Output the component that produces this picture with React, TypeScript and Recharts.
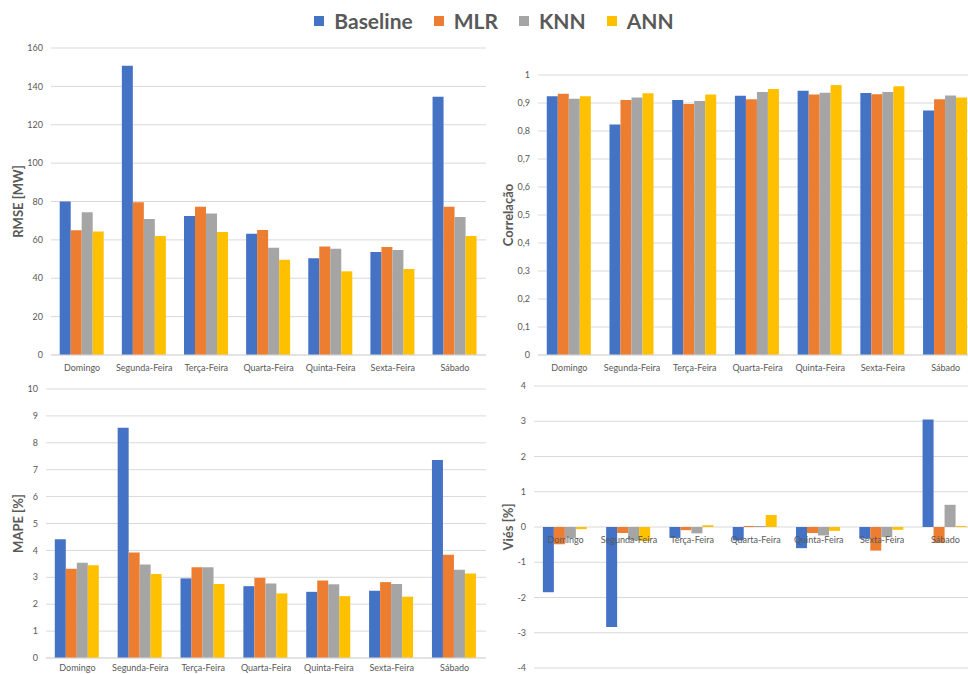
import { BarChart, Bar, XAxis, YAxis, CartesianGrid } from "recharts";

const days = [
  "Domingo",
  "Segunda-Feira",
  "Terça-Feira",
  "Quarta-Feira",
  "Quinta-Feira",
  "Sexta-Feira",
  "Sábado",
];

const models = [
  { key: "baseline", name: "Baseline", color: "#4472C4" },
  { key: "mlr", name: "MLR", color: "#ED7D31" },
  { key: "knn", name: "KNN", color: "#A5A5A5" },
  { key: "ann", name: "ANN", color: "#FFC000" },
];

// RMSE [MW]
const rmseBaseline = [80.0, 150.8, 72.4, 63.2, 50.4, 53.7, 134.6];
const rmseMlr = [65.0, 79.6, 77.3, 65.1, 56.5, 56.3, 77.3];
const rmseKnn = [74.4, 70.9, 73.8, 55.9, 55.4, 54.7, 71.9];
const rmseAnn = [64.3, 62.0, 64.1, 49.7, 43.6, 44.8, 62.0];

// Correlação
const corrBaseline = [0.924, 0.823, 0.911, 0.926, 0.944, 0.936, 0.873];
const corrMlr = [0.933, 0.911, 0.896, 0.913, 0.93, 0.931, 0.913];
const corrKnn = [0.915, 0.92, 0.907, 0.939, 0.937, 0.939, 0.927];
const corrAnn = [0.924, 0.935, 0.93, 0.95, 0.964, 0.96, 0.92];

// MAPE [%]
const mapeBaseline = [4.41, 8.56, 2.96, 2.67, 2.46, 2.5, 7.36];
const mapeMlr = [3.32, 3.92, 3.37, 2.98, 2.88, 2.82, 3.84];
const mapeKnn = [3.54, 3.48, 3.37, 2.77, 2.74, 2.75, 3.28];
const mapeAnn = [3.45, 3.12, 2.75, 2.4, 2.3, 2.28, 3.14];

// Viés [%]
const viesBaseline = [-1.85, -2.84, -0.31, -0.38, -0.6, -0.33, 3.05];
const viesMlr = [-0.49, -0.17, -0.09, 0.03, -0.17, -0.67, -0.45];
const viesKnn = [-0.32, -0.37, -0.18, 0.03, -0.24, -0.29, 0.63];
const viesAnn = [-0.06, -0.4, 0.05, 0.34, -0.11, -0.08, 0.03];

const rmseTicks = [0, 20, 40, 60, 80, 100, 120, 140, 160];
const corrTicks = [0, 0.1, 0.2, 0.3, 0.4, 0.5, 0.6, 0.7, 0.8, 0.9, 1];
const mapeTicks = [0, 1, 2, 3, 4, 5, 6, 7, 8, 9, 10];
const viesTicks = [-4, -3, -2, -1, 0, 1, 2, 3, 4];

const build = (b: number[], m: number[], k: number[], a: number[]) =>
  days.map((day, i) => ({ day, baseline: b[i], mlr: m[i], knn: k[i], ann: a[i] }));

const rmseData = build(rmseBaseline, rmseMlr, rmseKnn, rmseAnn);
const corrData = build(corrBaseline, corrMlr, corrKnn, corrAnn);
const mapeData = build(mapeBaseline, mapeMlr, mapeKnn, mapeAnn);
const viesData = build(viesBaseline, viesMlr, viesKnn, viesAnn);

const FONT = "Lato, 'DejaVu Sans', sans-serif";
const TEXT = "#595959";
const GRID = "#d9d9d9";
const tickStyle = { fontSize: 9, fill: TEXT, fontFamily: FONT };

const comma = (v: number) => String(v).replace(".", ",");

const axisTitle = (value: string, offset: number) => ({
  value,
  angle: -90,
  position: "insideLeft" as const,
  offset,
  style: {
    textAnchor: "middle",
    fontSize: 13,
    fontWeight: 700,
    fill: TEXT,
    fontFamily: FONT,
  },
});

const bars = () =>
  models.map((m) => (
    <Bar key={m.key} dataKey={m.key} name={m.name} fill={m.color} isAnimationActive={false} />
  ));

// bias panel: category labels sit on the zero line, not under the plot
const VIES_TOP = 16;
const VIES_PLOT_H = 282;
const viesZeroY = VIES_TOP + VIES_PLOT_H / 2;

const ZeroTick = (props: any) => (
  <text
    x={props.x}
    y={viesZeroY + 10}
    dy="0.71em"
    textAnchor="middle"
    fontSize={9}
    fill={TEXT}
    fontFamily={FONT}
  >
    {props.payload.value}
  </text>
);

const Legend = () => (
  <div
    style={{
      position: "absolute",
      left: 0,
      top: 6,
      width: 988,
      display: "flex",
      justifyContent: "center",
      gap: 21,
      fontFamily: FONT,
      fontWeight: 700,
      fontSize: 21,
      color: TEXT,
      lineHeight: "30px",
    }}
  >
    {models.map((m) => (
      <div key={m.key} style={{ display: "flex", alignItems: "center" }}>
        <span style={{ width: 10, height: 10, background: m.color, marginRight: 10 }} />
        {m.name}
      </div>
    ))}
  </div>
);

export default function App() {
  return (
    <div
      style={{
        position: "absolute",
        left: 0,
        top: 0,
        width: 968,
        height: 674,
        overflow: "hidden",
        background: "#fff",
      }}
    >
      <Legend />

      <div style={{ position: "absolute", left: 0, top: 30 }}>
        <BarChart
          width={490}
          height={360}
          data={rmseData}
          margin={{ top: 18, right: 4, bottom: 5, left: 15 }}
          barCategoryGap="14%"
          barGap={0}
        >
          <CartesianGrid vertical={false} stroke={GRID} />
          {bars()}
          <XAxis dataKey="day" height={30} tickLine={false} axisLine={{ stroke: GRID }} tick={tickStyle} tickMargin={4} interval={0} />
          <YAxis width={36} domain={[0, 160]} ticks={rmseTicks} tickLine={false} axisLine={false} tick={tickStyle} label={axisTitle("RMSE [MW]", 3)} />
        </BarChart>
      </div>

      <div style={{ position: "absolute", left: 480, top: 50 }}>
        <BarChart
          width={500}
          height={340}
          data={corrData}
          margin={{ top: 25, right: 3, bottom: 5, left: 18 }}
          barCategoryGap="14%"
          barGap={0}
        >
          <CartesianGrid vertical={false} stroke={GRID} />
          {bars()}
          <XAxis dataKey="day" height={30} tickLine={false} axisLine={{ stroke: GRID }} tick={tickStyle} tickMargin={4} interval={0} />
          <YAxis width={40} domain={[0, 1]} ticks={corrTicks} tickFormatter={comma} tickLine={false} axisLine={false} tick={tickStyle} label={axisTitle("Correlação", 10)} />
        </BarChart>
      </div>

      <div style={{ position: "absolute", left: 0, top: 380 }}>
        <BarChart
          width={490}
          height={310}
          data={mapeData}
          margin={{ top: 9, right: 4, bottom: 2, left: 12 }}
          barCategoryGap="14%"
          barGap={0}
        >
          <CartesianGrid vertical={false} stroke={GRID} />
          {bars()}
          <XAxis dataKey="day" height={30} tickLine={false} axisLine={{ stroke: GRID }} tick={tickStyle} tickMargin={1} interval={0} />
          <YAxis width={34} domain={[0, 10]} ticks={mapeTicks} tickLine={false} axisLine={false} tick={tickStyle} label={axisTitle("MAPE [%]", 6)} />
        </BarChart>
      </div>

      <div style={{ position: "absolute", left: 480, top: 370 }}>
        <BarChart
          width={500}
          height={310}
          data={viesData}
          margin={{ top: VIES_TOP, right: 3, bottom: 310 - VIES_TOP - VIES_PLOT_H - 2, left: 14 }}
          barCategoryGap="14%"
          barGap={0}
        >
          <CartesianGrid vertical={false} stroke={GRID} />
          {bars()}
          <XAxis dataKey="day" height={2} tickLine={false} axisLine={false} tick={<ZeroTick />} interval={0} />
          <YAxis width={40} domain={[-4, 4]} ticks={viesTicks} tickLine={false} axisLine={false} tick={tickStyle} label={axisTitle("Viés [%]", 14)} />
        </BarChart>
      </div>
    </div>
  );
}
